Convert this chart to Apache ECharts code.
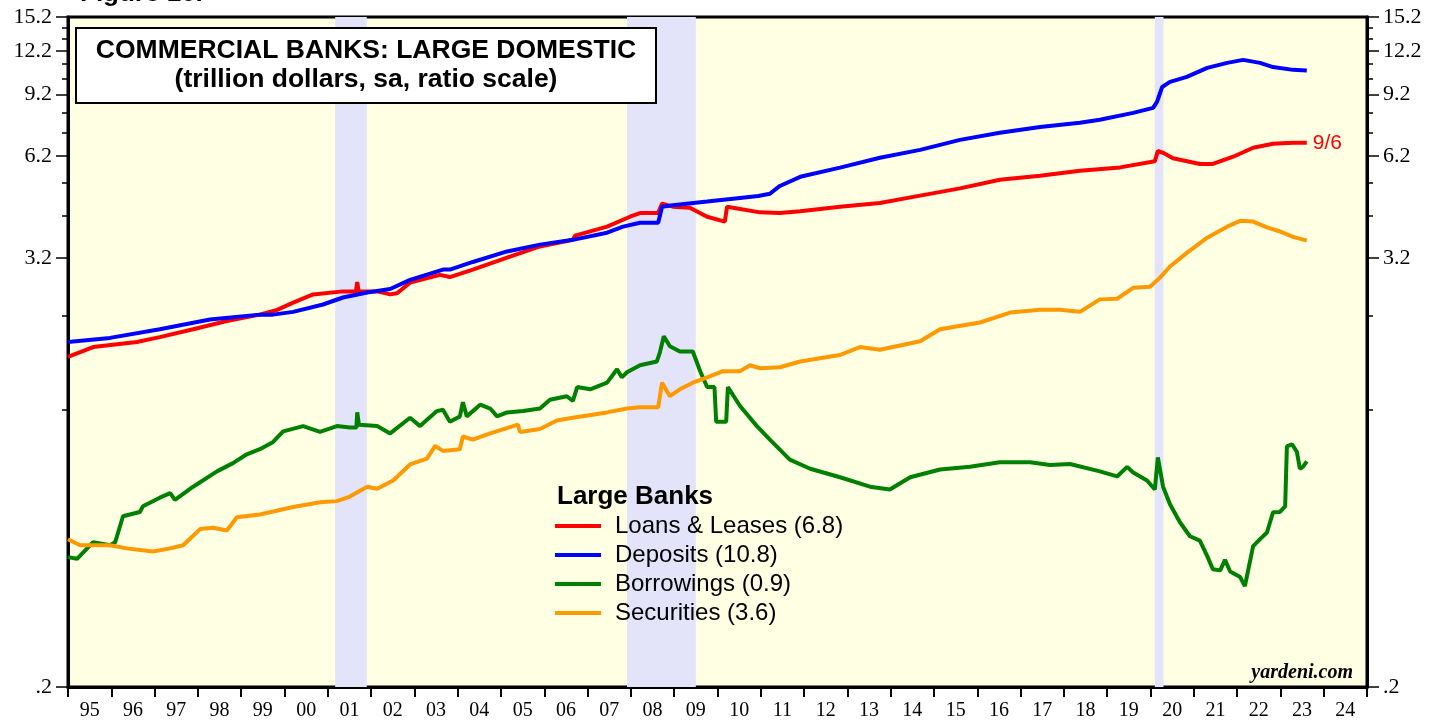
<!DOCTYPE html>
<html>
<head>
<meta charset="utf-8">
<title>Commercial Banks: Large Domestic</title>
<script src="https://cdn.jsdelivr.net/npm/echarts@6/dist/echarts.min.js"></script>
<style>
  html, body { margin: 0; padding: 0; background: #fff; }
  #chart { width: 1439px; height: 721px; }
</style>
</head>
<body>
<div id="chart"></div>
<script>
// weekly series, [decimal year, trillion $]
const loansPts = [
  [1995.00, 1.69], [1995.58, 1.80], [1996.59, 1.86], [1997.12, 1.92], [1997.89, 2.02],
  [1998.67, 2.13], [1999.43, 2.22], [1999.83, 2.29], [2000.20, 2.40], [2000.66, 2.53],
  [2001.35, 2.58], [2001.65, 2.58], [2001.68, 2.74], [2001.71, 2.58], [2002.14, 2.58],
  [2002.44, 2.53], [2002.60, 2.55], [2002.90, 2.73], [2003.59, 2.87], [2003.82, 2.83],
  [2004.35, 2.97], [2005.14, 3.21], [2005.90, 3.45], [2006.66, 3.60], [2006.71, 3.70],
  [2007.45, 3.92], [2007.98, 4.18], [2008.21, 4.28], [2008.63, 4.28], [2008.72, 4.55],
  [2008.97, 4.46], [2009.36, 4.43], [2009.76, 4.18], [2010.17, 4.05], [2010.22, 4.46],
  [2010.98, 4.30], [2011.44, 4.28], [2011.91, 4.33], [2012.83, 4.46], [2013.75, 4.57],
  [2014.68, 4.79], [2015.60, 5.02], [2016.52, 5.31], [2017.45, 5.45], [2018.37, 5.63],
  [2019.30, 5.75], [2020.10, 5.98], [2020.17, 6.40], [2020.29, 6.32], [2020.52, 6.10],
  [2021.14, 5.88], [2021.44, 5.88], [2021.91, 6.16], [2022.37, 6.53], [2022.83, 6.70],
  [2023.29, 6.74], [2023.61, 6.74]
];
const depositsPts = [
  [1995.00, 1.86], [1995.97, 1.91], [1997.12, 2.02], [1998.28, 2.15], [1999.43, 2.22],
  [1999.73, 2.22], [2000.20, 2.26], [2000.89, 2.37], [2001.35, 2.48], [2001.91, 2.56],
  [2002.44, 2.62], [2002.90, 2.78], [2003.66, 2.97], [2003.82, 2.97], [2004.35, 3.12],
  [2005.14, 3.34], [2005.90, 3.49], [2006.66, 3.60], [2007.45, 3.77], [2007.82, 3.92],
  [2008.21, 4.02], [2008.63, 4.02], [2008.72, 4.46], [2008.97, 4.50], [2009.76, 4.61],
  [2010.52, 4.72], [2010.94, 4.78], [2011.21, 4.85], [2011.44, 5.10], [2011.91, 5.41],
  [2012.83, 5.74], [2013.75, 6.12], [2014.68, 6.44], [2015.60, 6.87], [2016.52, 7.19],
  [2017.45, 7.47], [2018.37, 7.67], [2018.83, 7.82], [2019.60, 8.18], [2020.06, 8.45],
  [2020.15, 8.78], [2020.27, 9.67], [2020.45, 9.99], [2020.84, 10.32], [2021.31, 10.94],
  [2021.77, 11.30], [2022.14, 11.52], [2022.53, 11.30], [2022.83, 11.00], [2023.29, 10.80],
  [2023.61, 10.75]
];
const borrowPts = [
  [1995.00, 0.463], [1995.21, 0.458], [1995.58, 0.51], [1995.97, 0.50], [1996.09, 0.51],
  [1996.27, 0.603], [1996.66, 0.62], [1996.73, 0.643], [1997.12, 0.68], [1997.36, 0.70],
  [1997.47, 0.67], [1997.89, 0.73], [1998.44, 0.806], [1998.81, 0.85], [1999.13, 0.90],
  [1999.43, 0.93], [1999.73, 0.973], [1999.97, 1.044], [2000.43, 1.08], [2000.82, 1.04],
  [2001.21, 1.08], [2001.51, 1.07], [2001.66, 1.07], [2001.68, 1.18], [2001.72, 1.09],
  [2002.14, 1.08], [2002.44, 1.03], [2002.90, 1.14], [2003.13, 1.08], [2003.52, 1.19],
  [2003.66, 1.20], [2003.82, 1.11], [2004.05, 1.15], [2004.12, 1.26], [2004.21, 1.15],
  [2004.52, 1.24], [2004.75, 1.21], [2004.91, 1.15], [2005.14, 1.18], [2005.51, 1.19],
  [2005.90, 1.21], [2006.13, 1.28], [2006.52, 1.31], [2006.66, 1.27], [2006.76, 1.39],
  [2007.06, 1.37], [2007.45, 1.43], [2007.68, 1.56], [2007.79, 1.48], [2007.91, 1.53],
  [2008.21, 1.60], [2008.60, 1.64], [2008.67, 1.74], [2008.76, 1.93], [2008.90, 1.81],
  [2009.13, 1.75], [2009.43, 1.75], [2009.60, 1.54], [2009.76, 1.39], [2009.93, 1.39],
  [2009.97, 1.11], [2010.20, 1.11], [2010.24, 1.39], [2010.52, 1.23], [2010.91, 1.08],
  [2011.21, 0.99], [2011.67, 0.87], [2012.14, 0.82], [2012.83, 0.776], [2013.52, 0.73],
  [2013.98, 0.717], [2014.45, 0.776], [2015.14, 0.816], [2015.83, 0.83], [2016.52, 0.855],
  [2017.22, 0.855], [2017.68, 0.84], [2018.14, 0.845], [2018.83, 0.806], [2019.23, 0.78],
  [2019.46, 0.83], [2019.60, 0.80], [2019.92, 0.76], [2020.10, 0.717], [2020.17, 0.882],
  [2020.29, 0.73], [2020.45, 0.652], [2020.68, 0.58], [2020.91, 0.53], [2021.14, 0.515],
  [2021.31, 0.466], [2021.44, 0.428], [2021.61, 0.425], [2021.72, 0.455], [2021.84, 0.422],
  [2022.07, 0.407], [2022.18, 0.384], [2022.37, 0.497], [2022.53, 0.52], [2022.69, 0.543],
  [2022.83, 0.619], [2022.99, 0.62], [2023.11, 0.643], [2023.15, 0.947], [2023.27, 0.96],
  [2023.38, 0.915], [2023.45, 0.82], [2023.52, 0.83], [2023.61, 0.86]
];
const securitiesPts = [
  [1995.00, 0.52], [1995.28, 0.50], [1995.97, 0.50], [1996.36, 0.49], [1996.96, 0.48],
  [1997.36, 0.49], [1997.66, 0.50], [1998.05, 0.555], [1998.35, 0.56], [1998.67, 0.55],
  [1998.90, 0.599], [1999.43, 0.61], [2000.20, 0.64], [2000.82, 0.66], [2001.21, 0.665],
  [2001.51, 0.685], [2001.91, 0.73], [2002.14, 0.72], [2002.51, 0.76], [2002.90, 0.843],
  [2003.29, 0.875], [2003.48, 0.95], [2003.66, 0.92], [2004.05, 0.93], [2004.12, 1.01],
  [2004.35, 0.99], [2004.75, 1.03], [2005.39, 1.09], [2005.44, 1.04], [2005.90, 1.06],
  [2006.29, 1.12], [2006.66, 1.14], [2007.45, 1.18], [2007.91, 1.21], [2008.21, 1.22],
  [2008.63, 1.22], [2008.72, 1.43], [2008.90, 1.31], [2009.13, 1.37], [2009.43, 1.43],
  [2009.76, 1.48], [2010.13, 1.54], [2010.52, 1.54], [2010.75, 1.60], [2010.98, 1.57],
  [2011.44, 1.58], [2011.91, 1.64], [2012.83, 1.71], [2013.29, 1.80], [2013.75, 1.77],
  [2014.68, 1.87], [2015.14, 2.02], [2016.06, 2.11], [2016.76, 2.25], [2017.45, 2.29],
  [2017.91, 2.29], [2018.37, 2.26], [2018.83, 2.45], [2019.23, 2.46], [2019.60, 2.64],
  [2019.99, 2.66], [2020.22, 2.82], [2020.45, 3.03], [2020.84, 3.31], [2021.31, 3.65],
  [2021.77, 3.92], [2022.07, 4.07], [2022.37, 4.05], [2022.69, 3.90], [2022.99, 3.80],
  [2023.29, 3.67], [2023.61, 3.58]
];
// recessions (shaded)
const recessions = [[2001.17, 2001.90], [2007.91, 2009.50], [2020.10, 2020.30]];
// axis ticks
const yTicks = [0.2, 1.2, 2.2, 3.2, 4.2, 5.2, 6.2, 7.2, 8.2, 9.2, 10.2, 11.2, 12.2, 13.2, 14.2, 15.2];
const yLabels = [0.2, 3.2, 6.2, 9.2, 12.2, 15.2];
const yearTicks = [1995, 1996, 1997, 1998, 1999, 2000, 2001, 2002, 2003, 2004, 2005, 2006, 2007, 2008, 2009,
  2010, 2011, 2012, 2013, 2014, 2015, 2016, 2017, 2018, 2019, 2020, 2021, 2022, 2023, 2024, 2025];
const seriesNames = ['Loans & Leases (6.8)', 'Deposits (10.8)', 'Borrowings (0.9)', 'Securities (3.6)'];
const seriesColors = ['#FF0000', '#0000FF', '#008000', '#FF9900'];

const chart = echarts.init(document.getElementById('chart'));

function yLabelFmt(v) {
  const r = Math.round(v * 10) / 10;
  return r < 1 ? '.2' : r.toFixed(1);
}

// major (labelled) and minor ticks sit on separate axes, same scale
function logAxis(pos, major) {
  return {
    type: 'log', logBase: 10, min: 0.2, max: 15.2, position: pos,
    axisLine: { show: major, lineStyle: { color: '#000', width: 3 } },
    axisTick: { show: true, inside: false, length: major ? 12 : 6, customValues: major ? yLabels : yTicks,
      lineStyle: { color: '#000', width: 1.5 } },
    axisLabel: { show: major, customValues: yLabels, formatter: yLabelFmt, margin: 16,
      fontFamily: 'Liberation Serif', fontSize: 22, color: '#000' },
    splitLine: { show: false }
  };
}

const labelMid = yearTicks.slice(0, -1).map(y => y + 0.5);

const option = {
  animation: false,
  backgroundColor: '#fff',
  grid: { left: 68, right: 72, top: 17, bottom: 33, show: true,
    backgroundColor: '#FFFFE3', borderColor: '#000', borderWidth: 3 },
  xAxis: {
    type: 'value', min: 1995, max: 2025,
    axisLine: { show: true, lineStyle: { color: '#000', width: 3 } },
    axisTick: { show: true, inside: false, length: 10, customValues: yearTicks, lineStyle: { color: '#000', width: 2 } },
    axisLabel: { customValues: labelMid, margin: 14, fontFamily: 'Liberation Serif', fontSize: 20, color: '#000',
      formatter: v => String(Math.floor(v) % 100).padStart(2, '0') },
    splitLine: { show: false }
  },
  yAxis: [logAxis('left', true), logAxis('left', false), logAxis('right', true), logAxis('right', false)],
  legend: {
    orient: 'vertical', left: 550, top: 509, icon: 'rect', itemWidth: 46, itemHeight: 4, itemGap: 5,
    textStyle: { fontFamily: 'Liberation Sans', fontSize: 24, lineHeight: 24, color: '#000', padding: [0, 0, 0, 9] },
    data: seriesNames
  },
  graphic: [
    { type: 'text', x: 80, y: 7, z: 100, style: { text: 'Figure 10.', fontFamily: 'Liberation Sans', fontWeight: 'bold',
      fontSize: 26, fill: '#000', verticalAlign: 'bottom' } },
    { type: 'rect', x: 76, y: 28, z: 100, shape: { width: 580, height: 75 },
      style: { fill: '#fff', stroke: '#000', lineWidth: 2 } },
    { type: 'text', x: 366, y: 51, z: 101, style: { text: 'COMMERCIAL BANKS: LARGE DOMESTIC', fontFamily: 'Liberation Sans',
      fontWeight: 'bold', fontSize: 26.5, fill: '#000', align: 'center', verticalAlign: 'middle' } },
    { type: 'text', x: 366, y: 80, z: 101, style: { text: '(trillion dollars, sa, ratio scale)', fontFamily: 'Liberation Sans',
      fontWeight: 'bold', fontSize: 26.5, fill: '#000', align: 'center', verticalAlign: 'middle' } },
    { type: 'text', x: 557, y: 497, z: 101, style: { text: 'Large Banks', fontFamily: 'Liberation Sans',
      fontWeight: 'bold', fontSize: 26, fill: '#000', verticalAlign: 'middle' } },
    { type: 'text', x: 1353, y: 673, z: 101, style: { text: 'yardeni.com', fontFamily: 'Liberation Serif',
      fontWeight: 'bold', fontStyle: 'italic', fontSize: 20, fill: '#000', align: 'right', verticalAlign: 'middle' } }
  ],
  series: [loansPts, depositsPts, borrowPts, securitiesPts].map((pts, i) => {
    const s = {
      name: seriesNames[i], type: 'line', data: pts, showSymbol: false, symbol: 'none',
      lineStyle: { width: 4, color: seriesColors[i] }, itemStyle: { color: seriesColors[i] }
    };
    if (i === 0) {
      s.endLabel = { show: true, formatter: '9/6', color: '#FF0000', fontFamily: 'Liberation Sans', fontSize: 21, distance: 6 };
      s.markArea = { silent: true, itemStyle: { color: '#E3E3FA' },
        data: recessions.map(r => [{ xAxis: r[0] }, { xAxis: r[1] }]) };
    }
    return s;
  })
};

chart.setOption(option);
</script>
</body>
</html>
